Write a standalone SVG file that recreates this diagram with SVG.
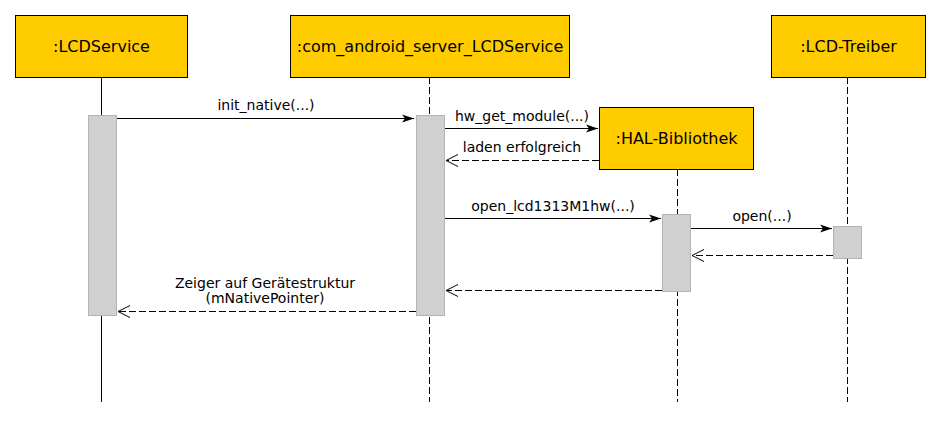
<svg xmlns="http://www.w3.org/2000/svg" width="940" height="448" viewBox="0 0 940 448">
<style>
.box{fill:#ffcc00;stroke:#000;stroke-width:1}
.lbl{font-family:"DejaVu Sans",sans-serif;font-size:16px;fill:#000;text-anchor:middle}
.msg{font-family:"DejaVu Sans",sans-serif;font-size:14px;fill:#000;text-anchor:middle}
.life{stroke:#000;stroke-width:1;fill:none}
.dash{stroke-dasharray:7,3}
.act{fill:#d0d0d0;stroke:#b4b4b4;stroke-width:1}
.call{stroke:#000;stroke-width:1;fill:none;marker-end:url(#filled)}
.ret{stroke:#000;stroke-width:1;fill:none;stroke-dasharray:7,3;marker-end:url(#open)}
</style>
<defs>
<marker id="filled" markerWidth="14" markerHeight="10" refX="13" refY="5" orient="auto" markerUnits="userSpaceOnUse">
<path d="M1,1 L13,5 L1,9 L4,5 Z" fill="#000"/>
</marker>
<marker id="open" markerWidth="16" markerHeight="14" refX="13" refY="7" orient="auto" markerUnits="userSpaceOnUse">
<path d="M1,1 L13,7 L1,13" fill="none" stroke="#000" stroke-width="1"/>
</marker>
</defs>
<rect width="940" height="448" fill="#fff"/>
<g id="lifelines">
<line class="life" x1="101.5" y1="77" x2="101.5" y2="402"/>
<line class="life dash" x1="429.5" y1="77" x2="429.5" y2="402"/>
<line class="life dash" x1="677.5" y1="169" x2="677.5" y2="402"/>
<line class="life dash" x1="847.5" y1="77" x2="847.5" y2="402"/>
</g>
<g id="LCDService">
<rect class="box" x="15.5" y="15.5" width="172" height="62"/>
<text class="lbl" x="101.5" y="52">:LCDService</text>
<rect class="act" x="88.5" y="115.5" width="28" height="200"/>
</g>
<g id="com_android_server_LCDService">
<rect class="box" x="290.5" y="15.5" width="279" height="62"/>
<text class="lbl" x="430" y="52">:com_android_server_LCDService</text>
<rect class="act" x="416.5" y="115.5" width="28" height="200"/>
</g>
<g id="HAL-Bibliothek">
<rect class="box" x="599.5" y="107.5" width="154" height="62"/>
<text class="lbl" x="676.5" y="144">:HAL-Bibliothek</text>
<rect class="act" x="662.5" y="214.5" width="28" height="77"/>
</g>
<g id="LCD-Treiber">
<rect class="box" x="771.5" y="15.5" width="154" height="62"/>
<text class="lbl" x="848.5" y="52">:LCD-Treiber</text>
<rect class="act" x="833.5" y="226.5" width="28" height="32"/>
</g>
<g id="connectors">
<line class="call" x1="117" y1="118.5" x2="414" y2="118.5"/>
<text class="msg" x="266" y="110">init_native(...)</text>
<line class="call" x1="445" y1="128.5" x2="598" y2="128.5"/>
<text class="msg" x="522" y="121">hw_get_module(...)</text>
<line class="ret" x1="599" y1="160.5" x2="446" y2="160.5"/>
<text class="msg" x="522" y="152">laden erfolgreich</text>
<line class="call" x1="445" y1="218.5" x2="661" y2="218.5"/>
<text class="msg" x="553" y="211">open_lcd1313M1hw(...)</text>
<line class="call" x1="691" y1="228.5" x2="832" y2="228.5"/>
<text class="msg" x="762" y="221">open(...)</text>
<line class="ret" x1="833" y1="255.5" x2="692" y2="255.5"/>
<line class="ret" x1="662" y1="290.5" x2="446" y2="290.5"/>
<line class="ret" x1="416" y1="311.5" x2="118" y2="311.5"/>
<text class="msg" x="265" y="288">Zeiger auf Gerätestruktur</text>
<text class="msg" x="265" y="303">(mNativePointer)</text>
</g>
</svg>
